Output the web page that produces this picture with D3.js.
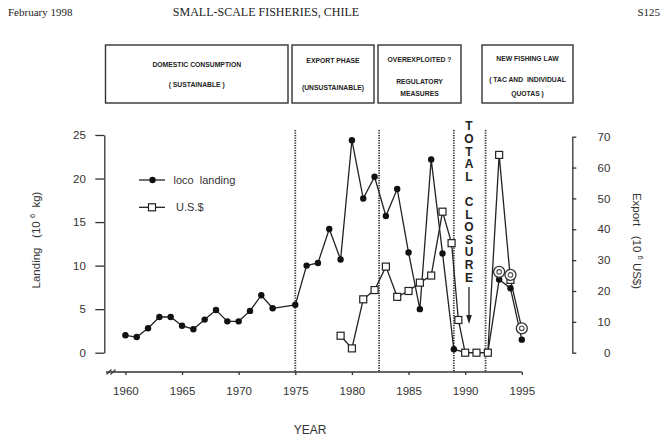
<!DOCTYPE html>
<html>
<head>
<meta charset="utf-8">
<script src="https://cdn.jsdelivr.net/npm/d3@7"></script>
<style>
  body { margin: 0; background: #fff; }
</style>
</head>
<body>
<div id="chart"></div>
<script>
// ---- data ----
const landingYears = [1960, 1961, 1962, 1963, 1964, 1965, 1966, 1967, 1968, 1969, 1970, 1971, 1972, 1973,
    1975, 1976, 1977, 1978, 1979, 1980, 1981, 1982, 1983, 1984, 1985, 1986, 1987, 1988, 1989,
    1990, 1991, 1992, 1993, 1994, 1995];
const landingValues = [2.0, 1.8, 2.8, 4.1, 4.1, 3.1, 2.7, 3.8, 4.9, 3.6, 3.6, 4.8, 6.6, 5.1,
    5.5, 10.0, 10.3, 14.2, 10.7, 24.4, 17.7, 20.2, 15.7, 18.8, 11.5, 5.0, 22.2, 11.4, 0.4,
    0, 0, 0, 8.4, 7.4, 1.5];

const exportYears = [1979, 1980, 1981, 1982, 1983, 1984, 1985, 1986, 1987, 1988, 1988.8, 1989.4,
    1990, 1991, 1992, 1993, 1994, 1995];
const exportValues = [5.5, 1.4, 17.3, 20.3, 27.9, 18.1, 20.0, 22.7, 25.0, 45.7, 35.5, 10.6,
    0, 0, 0, 64.1, 23.6, 7.9];

// circled (estimated) points, export axis
const circledYears = [1993, 1994, 1995];
const circledValues = [26.2, 25.2, 7.9];

const phaseBreaks = [1975, 1982.4, 1989, 1991.8];

const yearTicks = [1960, 1965, 1970, 1975, 1980, 1985, 1990, 1995];
const landingTicks = [0, 5, 10, 15, 20, 25];
const exportTicks = [0, 10, 20, 30, 40, 50, 60, 70];

const phaseLabels = [
    ["DOMESTIC CONSUMPTION", "( SUSTAINABLE )"],
    ["EXPORT PHASE", "(UNSUSTAINABLE)"],
    ["OVEREXPLOITED ?", "REGULATORY", "MEASURES"],
    ["NEW FISHING LAW", "( TAC AND  INDIVIDUAL", "QUOTAS )"]
];
const closureText = "TOTAL CLOSURE";

// ---- layout ----
const width = 662, height = 440;
const sans = "'Liberation Sans', Arial, sans-serif";
const serif = "'Liberation Serif', 'Times New Roman', serif";
const ink = "#222";

// box geometry for the phase labels (left, right, text line y's)
const boxes = [
    { x0: 105.5, x1: 288, ys: [66.5, 86.5] },
    { x0: 292, x1: 374, ys: [62.5, 89.5] },
    { x0: 378, x1: 461, ys: [61.5, 83.5, 95.5] },
    { x0: 482, x1: 573, ys: [60.5, 81.5, 95.5] }
];

const svg = d3.select("#chart")
    .append("svg")
    .attr("width", width)
    .attr("height", height)
    .style("font-family", sans);

svg.append("rect").attr("width", width).attr("height", height).attr("fill", "#fff");

// page header
svg.append("text").attr("x", 8).attr("y", 16)
    .attr("font-family", serif).attr("font-size", 11).attr("fill", ink)
    .text("February 1998");
svg.append("text").attr("x", 266).attr("y", 16).attr("text-anchor", "middle")
    .attr("font-family", serif).attr("font-size", 12).attr("fill", ink)
    .text("SMALL-SCALE FISHERIES, CHILE");
svg.append("text").attr("x", 660).attr("y", 16).attr("text-anchor", "end")
    .attr("font-family", serif).attr("font-size", 11).attr("fill", ink)
    .text("S125");

// scales
const x = d3.scaleLinear().domain([1960, 1995]).range([125.4, 521.8]);
const yLand = d3.scaleLinear().domain([0, 25]).range([352.7, 135]);
const yExp = d3.scaleLinear().domain([0, 70]).range([352.7, 136.7]);
const axisY = 372;

// phase boxes
boxes.forEach((b, i) => {
    svg.append("rect")
        .attr("x", b.x0).attr("y", 45)
        .attr("width", b.x1 - b.x0).attr("height", 58)
        .attr("fill", "none").attr("stroke", "#333").attr("stroke-width", 1.4);
    phaseLabels[i].forEach((t, j) => {
        svg.append("text")
            .attr("x", (b.x0 + b.x1) / 2).attr("y", b.ys[j])
            .attr("text-anchor", "middle")
            .attr("font-size", 6.8).attr("font-weight", "bold").attr("fill", ink)
            .style("white-space", "pre")
            .text(t);
    });
});

// phase break lines (dotted)
svg.selectAll(".phase")
    .data(phaseBreaks).enter()
    .append("line")
    .attr("class", "phase")
    .attr("x1", d => x(d)).attr("x2", d => x(d))
    .attr("y1", 130).attr("y2", axisY)
    .attr("stroke", "#333").attr("stroke-width", 1.8)
    .attr("stroke-dasharray", "1.2,1.3");

// left axis
const gLeft = svg.append("g")
    .attr("transform", "translate(104.3,0)")
    .call(d3.axisLeft(yLand).tickValues(landingTicks).tickSize(9).tickSizeOuter(0).tickPadding(9.5));

// right axis
const gRight = svg.append("g")
    .attr("transform", "translate(572.3,0)")
    .call(d3.axisRight(yExp).tickValues(exportTicks).tickSize(4).tickSizeOuter(0));
gRight.selectAll(".tick text").attr("x", 38).attr("text-anchor", "end");

// bottom axis
const gBottom = svg.append("g")
    .attr("transform", "translate(0," + axisY + ")")
    .call(d3.axisBottom(x).tickValues(yearTicks).tickFormat(d3.format("d")).tickSize(3).tickSizeOuter(0).tickPadding(12));
gBottom.select(".domain").remove();
gBottom.append("line")
    .attr("x1", 106).attr("x2", x(1995))
    .attr("stroke", "#333").attr("stroke-width", 1.3);
// axis break marks
[109, 113].forEach(bx => {
    gBottom.append("line")
        .attr("x1", bx - 2.5).attr("y1", 2.5).attr("x2", bx + 2.5).attr("y2", -2.5)
        .attr("stroke", "#333").attr("stroke-width", 1.1);
});

[gLeft, gRight, gBottom].forEach(g => {
    g.attr("font-family", sans).attr("font-size", 11.5);
    g.selectAll(".domain, .tick line").attr("stroke", "#333").attr("stroke-width", 1.3);
    g.selectAll(".tick text").attr("fill", "#333");
});

// axis titles
const leftTitle = svg.append("text")
    .attr("transform", "translate(40,240) rotate(-90)")
    .attr("text-anchor", "middle").attr("font-size", 11.5).attr("fill", "#333")
    .style("white-space", "pre");
leftTitle.append("tspan").text("Landing   (10 ");
leftTitle.append("tspan").attr("font-size", 7.5).attr("dy", -5).text("6");
leftTitle.append("tspan").attr("dy", 5).text("  kg)");

const rightTitle = svg.append("text")
    .attr("transform", "translate(633,241) rotate(90)")
    .attr("text-anchor", "middle").attr("font-size", 11.5).attr("fill", "#333")
    .style("white-space", "pre");
rightTitle.append("tspan").text("Export   (10 ");
rightTitle.append("tspan").attr("font-size", 7.5).attr("dy", -5).text("6");
rightTitle.append("tspan").attr("dy", 5).text(" US$)");

svg.append("text")
    .attr("x", 310).attr("y", 434)
    .attr("text-anchor", "middle").attr("font-size", 12).attr("fill", "#333")
    .text("YEAR");

// series
const landing = landingYears.map((yr, i) => ({ year: yr, value: landingValues[i] }));
const exports = exportYears.map((yr, i) => ({ year: yr, value: exportValues[i] }));
const circled = circledYears.map((yr, i) => ({ year: yr, value: circledValues[i] }));

svg.append("path")
    .datum(landing)
    .attr("fill", "none").attr("stroke", ink).attr("stroke-width", 1.3)
    .attr("d", d3.line().x(d => x(d.year)).y(d => yLand(d.value)));

svg.append("path")
    .datum(exports)
    .attr("fill", "none").attr("stroke", ink).attr("stroke-width", 1.3)
    .attr("d", d3.line().x(d => x(d.year)).y(d => yExp(d.value)));

svg.selectAll(".dot")
    .data(landing).enter()
    .append("circle")
    .attr("class", "dot")
    .attr("cx", d => x(d.year)).attr("cy", d => yLand(d.value))
    .attr("r", 3.2)
    .attr("fill", "#111");

const sq = 7;
svg.selectAll(".sq")
    .data(exports).enter()
    .append("rect")
    .attr("class", "sq")
    .attr("x", d => x(d.year) - sq / 2).attr("y", d => yExp(d.value) - sq / 2)
    .attr("width", sq).attr("height", sq)
    .attr("fill", "#fff").attr("stroke", ink).attr("stroke-width", 1.2);

const circ = svg.selectAll(".circ")
    .data(circled).enter()
    .append("g")
    .attr("class", "circ")
    .attr("transform", d => "translate(" + x(d.year) + "," + yExp(d.value) + ")");
circ.append("circle").attr("r", 5.5).attr("fill", "#fff").attr("stroke", "#333").attr("stroke-width", 1.3);
circ.append("circle").attr("r", 2.3).attr("fill", "none").attr("stroke", "#555").attr("stroke-width", 1.2);

// legend
const legend = [
    { label: "loco  landing", y: 180, kind: "dot" },
    { label: "U.S.$", y: 207.3, kind: "sq" }
];
legend.forEach(l => {
    svg.append("line")
        .attr("x1", 139).attr("x2", 165).attr("y1", l.y).attr("y2", l.y)
        .attr("stroke", ink).attr("stroke-width", 1.3);
    if (l.kind === "dot") {
        svg.append("circle").attr("cx", 152.5).attr("cy", l.y).attr("r", 3.2).attr("fill", "#111");
    } else {
        svg.append("rect").attr("x", 152 - sq / 2).attr("y", l.y - sq / 2)
            .attr("width", sq).attr("height", sq)
            .attr("fill", "#fff").attr("stroke", ink).attr("stroke-width", 1.2);
    }
    svg.append("text")
        .attr("x", l.kind === "dot" ? 173.5 : 176).attr("y", l.y + 4)
        .attr("font-size", 11).attr("fill", "#333")
        .style("white-space", "pre")
        .text(l.label);
});

// "TOTAL CLOSURE" stacked vertically
const closureX = 469;
svg.selectAll(".closure")
    .data(closureText.split("")).enter()
    .append("text")
    .attr("class", "closure")
    .attr("x", closureX).attr("y", (d, i) => 130.3 + i * 12.6)
    .attr("text-anchor", "middle")
    .attr("font-size", 12).attr("font-weight", "bold").attr("fill", ink)
    .text(d => d);
svg.append("line")
    .attr("x1", closureX).attr("x2", closureX).attr("y1", 287).attr("y2", 316)
    .attr("stroke", ink).attr("stroke-width", 1.3);
svg.append("path")
    .attr("d", "M" + (closureX - 2.8) + ",315 L" + (closureX + 2.8) + ",315 L" + closureX + ",324 Z")
    .attr("fill", ink);
</script>
</body>
</html>
